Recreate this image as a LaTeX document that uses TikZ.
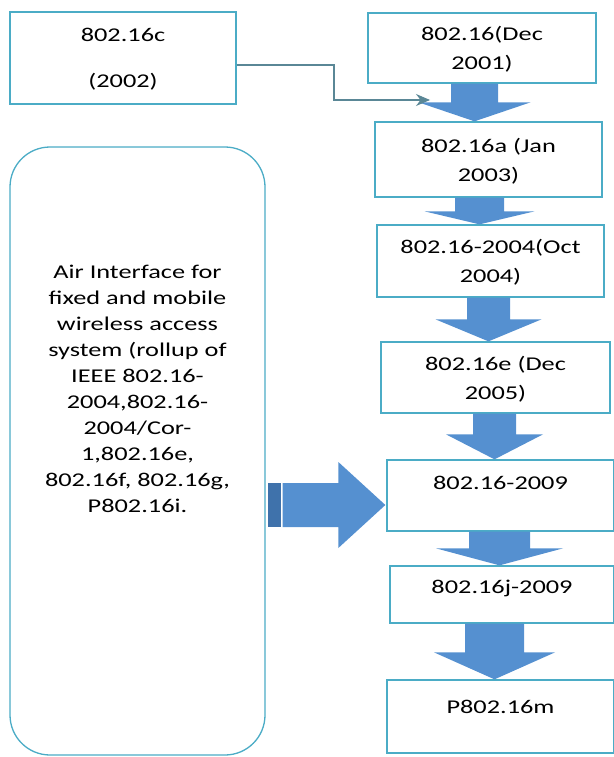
\documentclass[tikz,border=0pt]{standalone}
\usepackage{fontspec}
\setmainfont[FakeStretch=1.35]{Carlito}
\usepackage{tikz}
\usetikzlibrary{calc}
\usetikzlibrary{arrows.meta}

\definecolor{boxteal}{HTML}{4BACC6}
\definecolor{arrowblue}{HTML}{5590D0}
\definecolor{stubblue}{HTML}{3F72AB}
\definecolor{feedgray}{HTML}{5A8796}

\tikzset{
    stdbox/.style={draw=boxteal, line width=1.3pt, fill=white, rectangle, align=center, inner sep=0pt, font=\fontsize{19.5}{29}\selectfont},
    lift/.style={text depth=#1},
    feed/.style={draw=feedgray, line width=1.1pt, -{Stealth[length=14pt,width=12pt,fill=feedgray]}},
}

% block arrow pointing down: from, to, centre x, shaft half width, head half width, head length
\newcommand{\blockdown}[6]{%
    \fill[arrowblue] let \p1=(#1.south), \p2=(#2.north) in
        ({#3pt-#4pt},\y1) -- ({#3pt+#4pt},\y1) -- ({#3pt+#4pt},{\y2+#6pt}) -- ({#3pt+#5pt},{\y2+#6pt})
        -- (#3pt,\y2) -- ({#3pt-#5pt},{\y2+#6pt}) -- ({#3pt-#4pt},{\y2+#6pt}) -- cycle;}

\begin{document}
\begin{tikzpicture}[x=1pt, y=-1pt]
    % Parameters of the big arrow to the right
    \pgfmathsetmacro{\arrowmid}{505}
    \pgfmathsetmacro{\shafthalf}{22}
    \pgfmathsetmacro{\headhalf}{43}
    \pgfmathsetmacro{\headlen}{48}

    \useasboundingbox (0,0) rectangle (613,757);

    % The boxes
\node[stdbox, minimum width=226pt, minimum height=92pt, lift=0pt] (c02) at (123,58) {802.16c\\[17pt](2002)};
    \node[stdbox, minimum width=228pt, minimum height=70pt, lift=0pt] (dec01) at (482,48) {802.16(Dec\\2001)};
    \node[stdbox, minimum width=227pt, minimum height=75pt, lift=0pt] (jan03) at (488.5,159.5) {802.16a (Jan\\2003)};
    \node[stdbox, minimum width=227pt, minimum height=72pt, lift=0pt] (oct04) at (490.5,261) {802.16-2004(Oct\\2004)};
    \node[stdbox, minimum width=229pt, minimum height=71pt, lift=0pt] (dec05) at (495.5,377.5) {802.16e (Dec\\2005)};
    \node[stdbox, minimum width=227pt, minimum height=71pt, lift=26pt] (std09) at (500.5,495.5) {802.16-2009};
    \node[stdbox, minimum width=224pt, minimum height=57pt, lift=15pt] (j09) at (502,594.5) {802.16j-2009};
    \node[stdbox, minimum width=227pt, minimum height=73pt, lift=19pt] (m) at (500.5,716.5) {P802.16m};
    \node[stdbox, rounded corners=40pt, minimum width=255pt, minimum height=608pt, lift=124pt, font=\fontsize{19.5}{26}\selectfont] (rollup) at (137.5,451)
        {Air Interface for\\fixed and mobile\\wireless access\\system (rollup of\\IEEE 802.16-\\2004,802.16-\\2004/Cor-\\1,802.16e,\\802.16f, 802.16g,\\P802.16i.};

    % Let's draw the block arrows!
    \blockdown{dec01}{jan03}{474.5}{23.5}{56}{19}
    \blockdown{jan03}{oct04}{479.5}{24.5}{55}{13}
    \blockdown{oct04}{dec05}{488.5}{21.5}{53}{22}
    \blockdown{dec05}{std09}{494.5}{21.5}{48.5}{25}
    \blockdown{std09}{j09}{499.5}{30.5}{63.5}{17}
    \blockdown{j09}{m}{494.5}{29.5}{60.5}{27}

    % Big arrow from the rollup box
    \fill[stubblue] let \p1=(rollup.east) in ({\x1+2pt},{-\arrowmid pt+\shafthalf pt}) rectangle ({\x1+15pt},{-\arrowmid pt-\shafthalf pt});
    \fill[arrowblue] let \p1=(rollup.east), \p2=(std09.west) in
        ({\x1+17pt},{-\arrowmid pt+\shafthalf pt}) -- ({\x2-\headlen pt},{-\arrowmid pt+\shafthalf pt}) -- ({\x2-\headlen pt},{-\arrowmid pt+\headhalf pt})
        -- ({\x2-1pt},{-\arrowmid pt}) -- ({\x2-\headlen pt},{-\arrowmid pt-\headhalf pt}) -- ({\x2-\headlen pt},{-\arrowmid pt-\shafthalf pt})
        -- ({\x1+17pt},{-\arrowmid pt-\shafthalf pt}) -- cycle;

    % Thin line from 802.16c
    \coordinate (cin) at (430,100);
    \draw[feed] ([yshift=-7pt]c02.east) -| (334,100) -- (cin);
\end{tikzpicture}
\end{document}
